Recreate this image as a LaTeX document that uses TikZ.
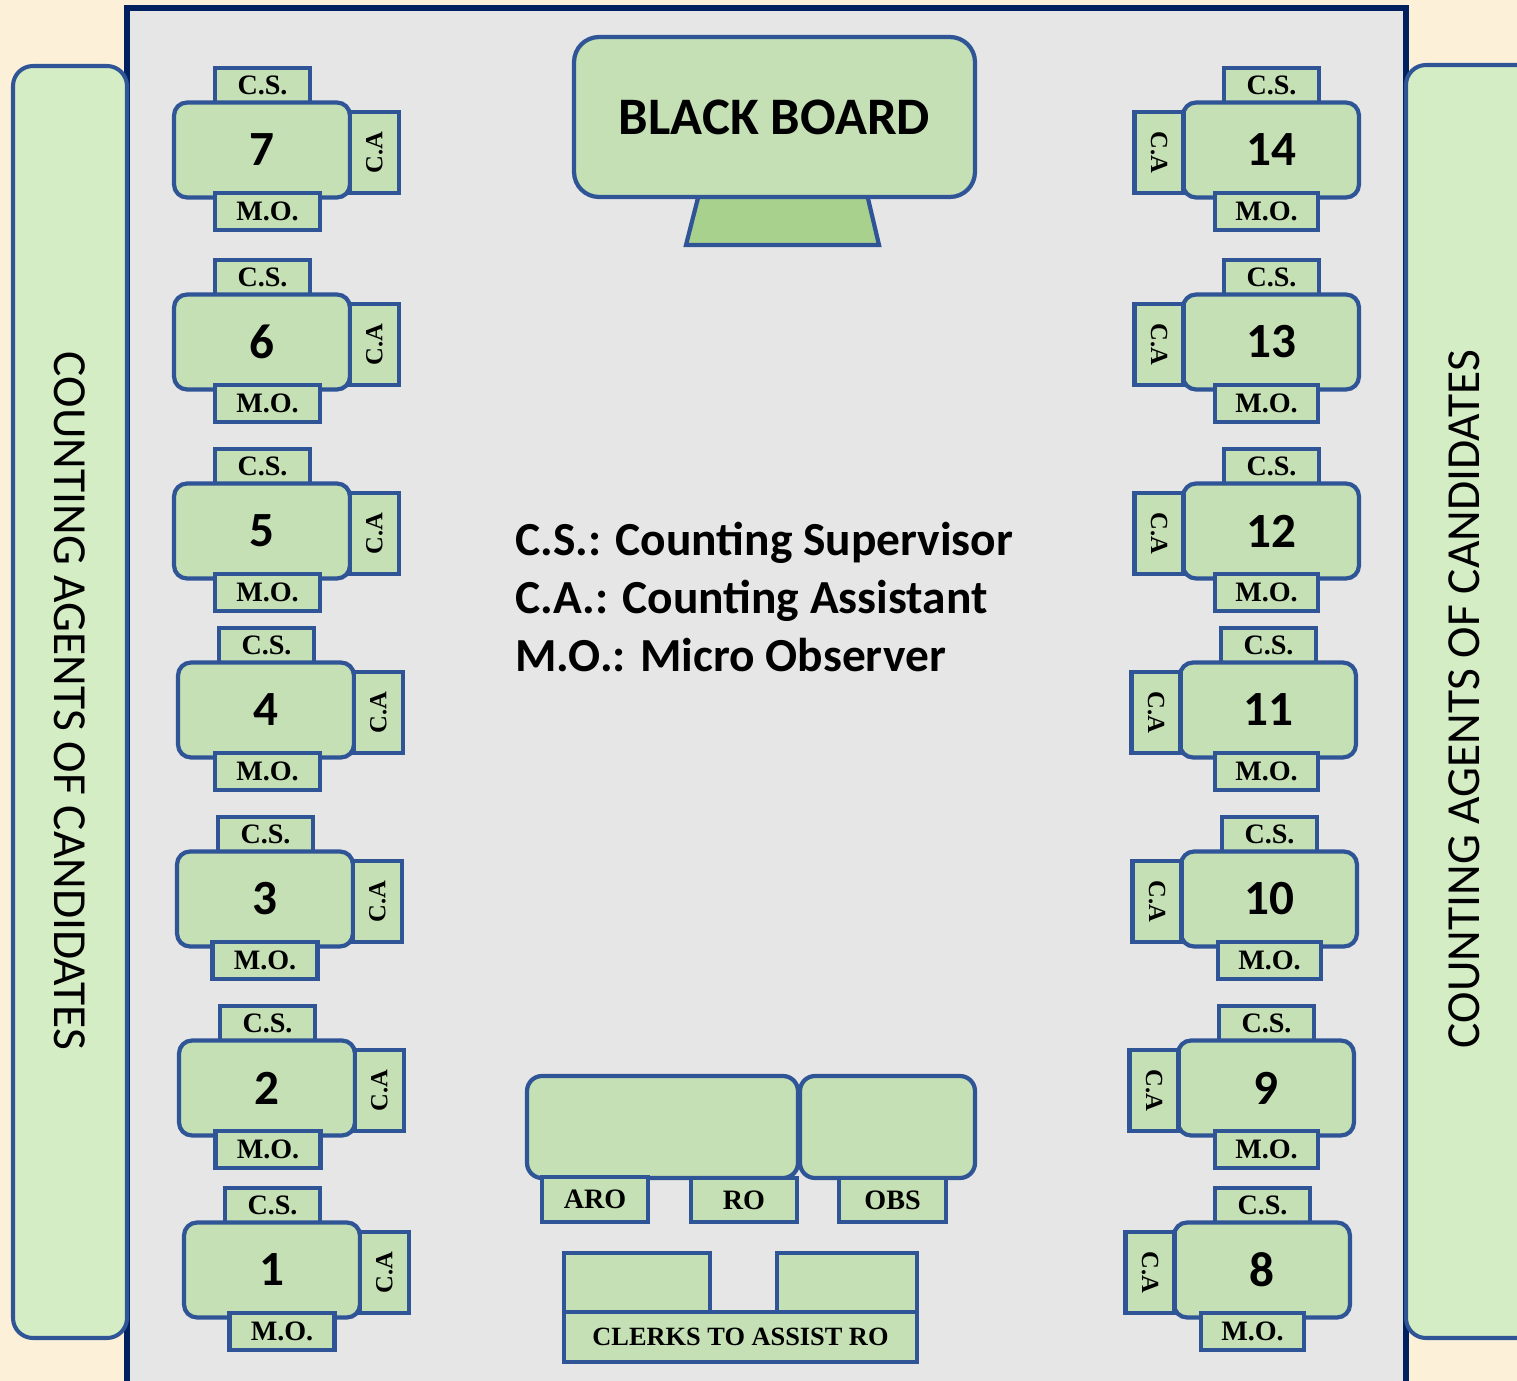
\documentclass[tikz,border=0pt]{standalone}
\usepackage{fontspec}
\setmainfont{Carlito}
\newfontfamily\tnr{Liberation Serif}
\definecolor{bgc}{HTML}{FDF0D9}
\definecolor{roomc}{HTML}{E6E6E6}
\definecolor{roomb}{HTML}{002060}
\definecolor{tfill}{HTML}{C5E0B4}
\definecolor{tdraw}{HTML}{2F5597}
\definecolor{standc}{HTML}{A9D18E}
\definecolor{panelc}{HTML}{D4EDC5}
% #1 number, #2 centre x, #3 centre y, #4 M.O. centre x
\newcommand\leftdesk[4]{%
  \node[csbox] (cs#1) at (#2+0.5,#3-64.5) {C.S.};
  \node[desk] (d#1) at (#2,#3) {#1};
  \node[mobox,minimum width=2.1cm] (mo#1) at (#4,#3+61.5) {M.O.};
  \node[cabox,rotate=90] (ca#1) at (#2+112.5,#3+2.5) {C.A};
}
\newcommand\rightdesk[4]{%
  \node[csbox] (cs#1) at (#2+0.5,#3-64.5) {C.S.};
  \node[desk] (d#1) at (#2,#3) {#1};
  \node[mobox,minimum width=2.06cm] (mo#1) at (#4,#3+61.5) {M.O.};
  \node[cabox,rotate=-90] (ca#1) at (#2-112,#3+2.5) {C.A};
}
\begin{document}
\begin{tikzpicture}[x=0.02cm,y=-0.02cm,
  box/.style={draw=tdraw,fill=tfill,line width=2.4pt,inner sep=0pt,outer sep=0pt},
  desk/.style={box,rounded corners=0.26cm,minimum width=3.52cm,minimum height=1.9cm,
    font=\bfseries\fontsize{28}{28}\selectfont},
  lbl/.style={box,font=\tnr\bfseries\fontsize{16}{16}\selectfont},
  csbox/.style={lbl,minimum width=1.9cm,minimum height=0.7cm},
  mobox/.style={lbl,minimum height=0.74cm},
  cabox/.style={box,minimum width=1.62cm,minimum height=0.98cm,font=\tnr\bfseries\fontsize{14}{14}\selectfont},
  panel/.style={draw=tdraw,fill=panelc,line width=2.3pt,rounded corners=0.4cm},
  sidetext/.style={font=\fontsize{27}{27}\selectfont,inner sep=0pt},
  legend/.style={font=\bfseries\fontsize{27}{27}\selectfont,anchor=base west,inner sep=0pt}]
\useasboundingbox (0,0) rectangle (1517,1381);
\clip (0,0) rectangle (1517,1381);
\fill[bgc] (0,0) rectangle (1517,1381);
% room
\fill[roomc] (127,8) rectangle (1406,1385);
\draw[roomb,line width=3.4pt] (127,1390) -- (127,8) -- (1406,8) -- (1406,1390);
% side panels
\draw[panel] (13,66) rectangle (127,1338);
\draw[panel] (1406,65) rectangle (1560,1338);
\node[sidetext,rotate=-90] (lp) at (69.5,701) {COUNTING AGENTS OF CANDIDATES};
\node[sidetext,rotate=90] (rp) at (1464,699) {COUNTING AGENTS OF CANDIDATES};
% black board
\draw[box,fill=standc] (700,190) -- (866,190) -- (879,245) -- (686,245) -- cycle;
\node[box,rounded corners=0.5cm,minimum width=8.02cm,minimum height=3.2cm,
  font=\bfseries\fontsize{30}{30}\selectfont] (bb) at (774.5,117) {BLACK BOARD};
% desks
\leftdesk{7}{262}{150}{267.5}
\leftdesk{6}{262}{342}{267.5}
\leftdesk{5}{262}{531}{267.5}
\leftdesk{4}{266}{710}{267.5}
\leftdesk{3}{265}{899}{265}
\leftdesk{2}{267}{1088}{268}
\leftdesk{1}{272}{1270}{282}
\rightdesk{14}{1271}{150}{1266.5}
\rightdesk{13}{1271}{342}{1266.5}
\rightdesk{12}{1271}{531}{1266.5}
\rightdesk{11}{1268}{710}{1266.5}
\rightdesk{10}{1269}{899}{1269.5}
\rightdesk{9}{1266}{1088}{1266.5}
\rightdesk{8}{1262}{1270}{1252.5}
% legend
\node[legend] (lg1) at (515,556) {C.S.: Counting Supervisor};
\node[legend] (lg2) at (515,613) {C.A.: Counting Assistant};
\node[legend] (lg3) at (515,671) {M.O.: Micro Observer};
% RO tables
\node[box,rounded corners=0.3cm,minimum width=5.42cm,minimum height=2.04cm] (rot) at (662.5,1127) {};
\node[box,rounded corners=0.3cm,minimum width=3.5cm,minimum height=2.04cm] (obst) at (887.5,1127) {};
\node[lbl,minimum width=2.12cm,minimum height=0.9cm] (aro) at (595,1199.5) {ARO};
\node[lbl,minimum width=2.12cm,minimum height=0.88cm] (ro) at (744,1200) {RO};
\node[lbl,minimum width=2.14cm,minimum height=0.88cm] (obs) at (892.5,1200) {OBS};
% clerks
\node[box,minimum width=2.92cm,minimum height=1.18cm] (ck1) at (637,1282.5) {};
\node[box,minimum width=2.8cm,minimum height=1.18cm] (ck2) at (847,1282.5) {};
\node[box,minimum width=7.06cm,minimum height=1.0cm,font=\tnr\bfseries\fontsize{15}{15}\selectfont] (clk) at (740.5,1337) {CLERKS TO ASSIST RO};
\end{tikzpicture}
\end{document}
